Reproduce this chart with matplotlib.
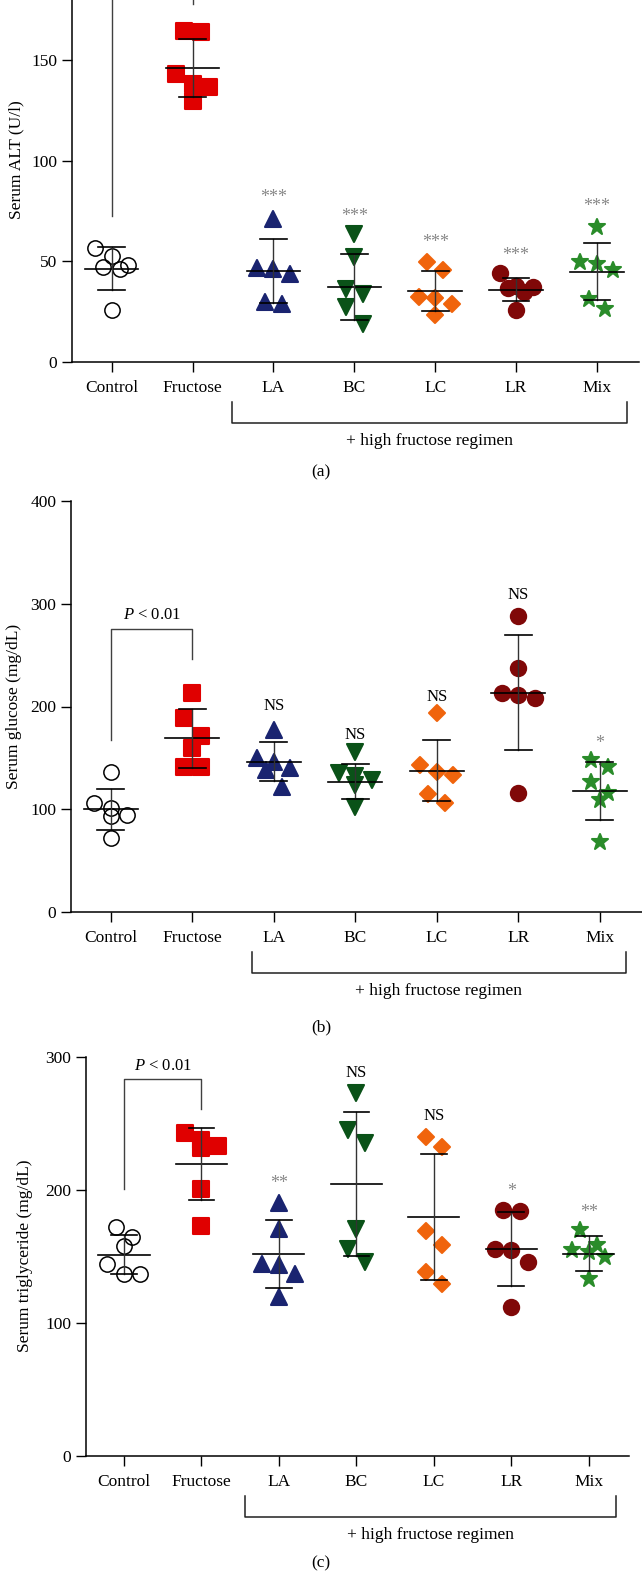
import numpy as np
import matplotlib
matplotlib.use("Agg")
import matplotlib.pyplot as plt
from matplotlib.markers import MarkerStyle

plt.rcParams['font.family'] = ['Liberation Serif', 'DejaVu Serif']
plt.rcParams['mathtext.fontset'] = 'custom'
plt.rcParams['mathtext.it'] = 'Liberation Serif:italic'

# Datos
grupos = ["Control", "Fructose", "LA", "BC", "LC", "LR", "Mix"]

alt_vals = [
    [56.6, 52.5, 48.0, 47.2, 46.0, 25.7],
    [164.0, 164.5, 143.4, 138.4, 136.7, 130.0],
    [71.2, 46.9, 46.4, 43.9, 29.8, 29.0],
    [63.7, 52.0, 36.3, 33.8, 27.3, 19.0],
    [49.7, 45.9, 31.9, 32.3, 29.0, 23.2],
    [44.2, 37.6, 36.9, 37.2, 34.8, 25.7],
    [67.0, 48.8, 49.7, 45.5, 31.5, 26.5],
]
alt_media = [46.4, 146.2, 45.2, 37.2, 35.3, 36.0, 45.0]
alt_sd = [10.7, 14.3, 16.0, 16.3, 10.0, 5.8, 14.3]
alt_sig = ["", "", "***", "***", "***", "***", "***"]
alt_sig_y = [0, 0, 82.0, 72.2, 59.3, 53.2, 77.2]

glu_vals = [
    [136.7, 105.8, 101.0, 94.5, 93.5, 72.0],
    [213.0, 188.6, 171.4, 159.4, 141.0, 141.6],
    [177.0, 149.7, 146.4, 140.0, 138.0, 122.0],
    [156.0, 135.0, 132.0, 128.6, 123.7, 102.6],
    [193.5, 143.0, 136.7, 133.4, 115.0, 105.8],
    [288.0, 237.3, 213.0, 211.4, 208.0, 115.6],
    [148.0, 141.6, 127.0, 116.0, 109.0, 68.4],
]
glu_media = [100.0, 169.0, 146.4, 127.0, 137.7, 213.6, 118.0]
glu_sd = [20.0, 28.7, 19.0, 17.2, 30.0, 56.0, 28.2]
glu_sig = ["", "", "NS", "NS", "NS", "NS", "*"]
glu_sig_y = [0, 0, 200.6, 172.0, 209.7, 308.5, 164.0]

tg_vals = [
    [171.9, 164.4, 158.0, 144.0, 137.2, 136.5],
    [242.8, 237.8, 232.8, 231.6, 200.5, 173.0],
    [190.5, 170.6, 144.7, 143.4, 137.2, 119.9],
    [273.0, 245.3, 235.3, 170.6, 156.0, 145.5],
    [239.8, 232.0, 169.4, 158.3, 138.5, 129.3],
    [185.0, 184.3, 155.3, 154.6, 145.9, 112.4],
    [169.9, 158.3, 154.6, 153.3, 149.6, 133.0],
]
tg_media = [151.4, 219.7, 151.9, 204.7, 179.8, 155.8, 152.1]
tg_sd = [14.7, 27.1, 25.9, 54.0, 47.5, 27.7, 13.0]
tg_sig = ["", "", "**", "NS", "NS", "*", "**"]
tg_sig_y = [0, 0, 204.7, 288.0, 255.7, 198.5, 183.0]

# estilos por grupo
marcadores = ['o', 's', '^', 'v', 'D', 'o', '*']
colores = ['none', '#e00000', '#1a2470', '#0a5218', '#f0640c', '#800808', '#2a8c2a']
tamanos = [11, 11, 12, 12, 8.5, 11, 12]

W, H = 642, 1572
fig = plt.figure(figsize=(W / 100, H / 100), dpi=100)


def ejes(l, r, t, b):
    return fig.add_axes([l / W, 1 - b / H, (r - l) / W, (b - t) / H])


def filas(vals, ppu_y, ppu_x, d):
    # agrupa puntos con valores cercanos (max 3 por fila) y los reparte a lo ancho
    orden = np.argsort(vals)[::-1]
    offs = np.zeros(len(vals))
    grupo = []
    for idx in list(orden) + [None]:
        if idx is not None and len(grupo) < 3 and (not grupo or
                abs(vals[grupo[0]] - vals[idx]) * ppu_y < d * 1.2):
            grupo.append(idx)
            continue
        n = len(grupo)
        for k, g in enumerate(grupo):
            offs[g] = (k - (n - 1) / 2) * d * 1.1 / ppu_x
        grupo = [idx] if idx is not None else []
    return offs


def panel(ax, vals, media, sd, sig, sig_y, ymax, yticks, ylabel, ylab_xy, letra,
          br, pval=None):
    ax.set_xlim(-0.49, 6.52)
    ax.set_ylim(0, ymax)
    bbox = ax.get_position()
    alto_px = bbox.height * H
    ancho_px = bbox.width * W
    ppu_y = alto_px / ymax
    ppu_x = ancho_px / 7.01
    for i, v in enumerate(vals):
        xs = i + filas(v, ppu_y, ppu_x, 15)
        if i == 0:
            ax.plot(xs, v, ls='none', marker='o', ms=tamanos[i], mfc='none',
                    mec='black', mew=1.1, zorder=3)
        else:
            mk = MarkerStyle(marcadores[i], joinstyle='round')
            ax.plot(xs, v, ls='none', marker=mk, ms=tamanos[i], mfc=colores[i],
                    mec=colores[i], mew=1.5, zorder=3)
        ax.plot([i - 0.33, i + 0.33], [media[i], media[i]], color='black', lw=1.2, zorder=4)
        ax.plot([i, i], [media[i] - sd[i], media[i] + sd[i]], color='#333333', lw=1.0,
                zorder=4)
        for yc in (media[i] - sd[i], media[i] + sd[i]):
            ax.plot([i - 0.165, i + 0.165], [yc, yc], color='black', lw=1.2, zorder=4)
        if sig[i]:
            if '*' in sig[i]:
                ax.text(i, sig_y[i], sig[i], ha='center', va='center', fontsize=13,
                        color='#888888')
            else:
                ax.text(i, sig_y[i], sig[i], ha='center', va='center', fontsize=12,
                        color='black')
    if pval is not None:
        c0, c1, top, ptxt = pval
        ax.plot([0, 0, 1, 1], [c0, top, top, c1], color='#404040', lw=1.0, zorder=2)
        if ptxt is not None:
            ax.text(0.5, ptxt, r"$P$ < 0.01", ha='center', va='center', fontsize=12)
    ax.set_yticks(yticks)
    ax.set_xticks(range(7))
    ax.set_xticklabels(grupos)
    ax.tick_params(axis='both', labelsize=12.5, length=7, width=1, direction='out')
    ax.tick_params(axis='x', pad=6)
    for s in ['top', 'right']:
        ax.spines[s].set_visible(False)
    for s in ['left', 'bottom']:
        ax.spines[s].set_linewidth(1.1)
    # corchete del regimen
    x0, x1 = br
    y_top = -40 / alto_px
    y_bot = -61 / alto_px
    tr = ax.get_xaxis_transform()
    ax.plot([x0, x0, x1, x1], [y_top, y_bot, y_bot, y_top], color='#202020', lw=1.1,
            transform=tr, clip_on=False)
    ax.text((x0 + x1) / 2, -79 / alto_px, "+ high fructose regimen", ha='center',
            va='center', fontsize=12.5, transform=tr)
    fig.text(0.5, (bbox.y0 * H - letra) / H, "(" + "abc"[panel.n] + ")",
             ha='center', va='center', fontsize=12.5)
    panel.n += 1
    fig.text(ylab_xy[0] / W, 1 - ylab_xy[1] / H, ylabel, rotation=90, ha='center',
             va='center', fontsize=12.5)


panel.n = 0

ax1 = ejes(72, 639, 0, 362)
panel(ax1, alt_vals, alt_media, alt_sd, alt_sig, alt_sig_y, 180, [0, 50, 100, 150],
      "Serum ALT (U/l)", (16, 160), 110, (1.49, 6.37), (72.5, 178, 200, None))

ax2 = ejes(71, 642, 501, 912)
panel(ax2, glu_vals, glu_media, glu_sd, glu_sig, glu_sig_y, 400, [0, 100, 200, 300, 400],
      "Serum glucose (mg/dL)", (14, 706), 115, (1.73, 6.32), (167.5, 246, 275, 289))

ax3 = ejes(86, 629, 1057, 1456)
panel(ax3, tg_vals, tg_media, tg_sd, tg_sig, tg_sig_y, 300, [0, 100, 200, 300],
      "Serum triglyceride (mg/dL)", (25, 1256), 107, (1.56, 6.35), (200.5, 260.7, 283.3, 293))

fig.savefig("out.png", dpi=100)
